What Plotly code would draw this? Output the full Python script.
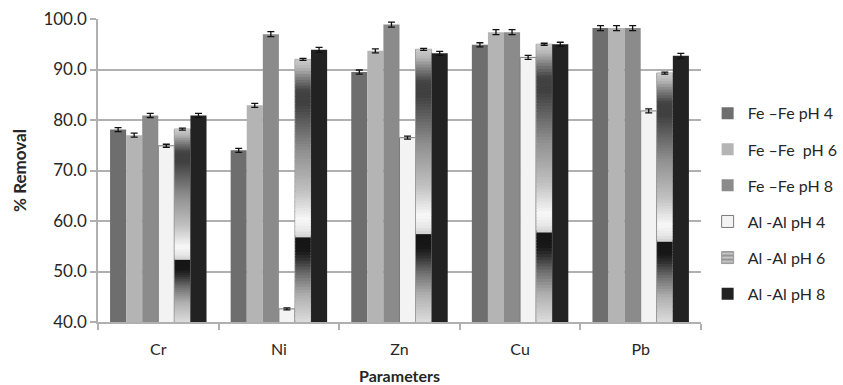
import plotly.graph_objects as go
import numpy as np

categories = ["Cr", "Ni", "Zn", "Cu", "Pb"]
series_names = ["Fe \u2013Fe pH 4", "Fe \u2013Fe\u00a0 pH 6", "Fe \u2013Fe pH 8",
                "Al -Al pH 4", "Al -Al pH 6", "Al -Al pH 8"]
fe_ph4 = [78.1, 74.0, 89.5, 94.9, 98.2]
fe_ph6 = [77.0, 82.9, 93.7, 97.4, 98.2]
fe_ph8 = [80.9, 97.0, 98.9, 97.4, 98.2]
al_ph4 = [74.9, 42.6, 76.5, 92.4, 81.8]
al_ph6 = [78.2, 92.0, 94.0, 95.0, 89.3]
al_ph8 = [80.9, 93.9, 93.2, 95.0, 92.7]
err_fe_ph4 = [0.4, 0.4, 0.4, 0.4, 0.5]
err_fe_ph6 = [0.4, 0.4, 0.4, 0.5, 0.5]
err_fe_ph8 = [0.4, 0.5, 0.5, 0.5, 0.5]
err_al_ph4 = [0.3, 0.2, 0.3, 0.4, 0.4]
err_al_ph6 = [0.2, 0.2, 0.2, 0.2, 0.2]
err_al_ph8 = [0.4, 0.5, 0.4, 0.4, 0.5]
y_ticks = [40, 50, 60, 70, 80, 90, 100]

colors = ["#6e6e6e", "#b3b4b3", "#8b8b8b", "#f3f3f3", "#c0c0c0", "#222222"]

# gradient stops (fraction of bar height from bottom, grey level) for Al pH 6 fill
grad_f = [0.00, 0.10, 0.18, 0.24, 0.27, 0.318, 0.322, 0.35, 0.39, 0.50, 0.65, 0.78, 0.83, 0.88, 0.93, 0.97, 1.00]
grad_g = [0xdc, 0xb0, 0x70, 0x30, 0x18, 0x15, 0xd0, 0xe8, 0xf8, 0xc0, 0x90, 0x55, 0x40, 0x42, 0x80, 0xb8, 0xcc]

BASE = 40
W = 0.1333
def off(k):
    return -0.4 + k * W

font_family = "Lato, 'Open Sans', sans-serif"
fig = go.Figure()

def add_bar(k, vals, errs, color, line_color=None, line_w=0):
    fig.add_trace(go.Bar(
        x=categories, y=vals, name=series_names[k],
        marker=dict(color=color, line=dict(color=line_color or color, width=line_w)),
        width=W, offset=off(k), legendgroup=str(k),
        error_y=dict(type="data", array=errs, color="#111111", thickness=1.3, width=3.5),
    ))

add_bar(0, fe_ph4, err_fe_ph4, colors[0])
add_bar(1, fe_ph6, err_fe_ph6, colors[1])
add_bar(2, fe_ph8, err_fe_ph8, colors[2])
add_bar(3, al_ph4, err_al_ph4, colors[3], "#7a7a7a", 1)

# Al pH 6: base trace (legend + outline)
fig.add_trace(go.Bar(
    x=categories, y=al_ph6, name=series_names[4], width=W, offset=off(4), legendgroup="4",
    marker=dict(color="#c4c4c4", line=dict(color="#9a9a9a", width=1),
                pattern=dict(shape="-", fgcolor="#3a3a3a", bgcolor="#c4c4c4", size=5, solidity=0.35)),
))
# gradient segments
N = 90
v6 = np.array(al_ph6)
for i in range(N):
    f0, f1 = i / N, (i + 1) / N
    g = int(round(np.interp((f0 + f1) / 2, grad_f, grad_g)))
    ext = 1.6 if i < N - 1 else 1.0
    fig.add_trace(go.Bar(
        x=categories, y=(v6 - BASE) * (f1 - f0) * ext, base=BASE + (v6 - BASE) * f0,
        width=W - 0.006, offset=off(4) + 0.003, showlegend=False, hoverinfo="skip",
        marker=dict(color=f"rgb({g},{g},{g})", line=dict(width=0)),
    ))
add_bar(5, al_ph8, err_al_ph8, colors[5])
# error bars for Al pH 6 drawn on top
fig.add_trace(go.Bar(
    x=categories, y=al_ph6, width=W, offset=off(4), showlegend=False, hoverinfo="skip",
    marker=dict(color="rgba(0,0,0,0)", line=dict(width=0)),
    error_y=dict(type="data", array=err_al_ph6, color="#111111", thickness=1.3, width=3.5),
))
# invisible trace carrying the category labels axis
fig.add_trace(go.Bar(
    x=categories, y=fe_ph4, xaxis="x2", showlegend=False, hoverinfo="skip",
    marker=dict(color="rgba(0,0,0,0)", line=dict(width=0)),
))

fig.update_layout(
    barmode="overlay",
    width=843, height=385,
    margin=dict(l=98, r=142, t=19, b=63, autoexpand=False),
    paper_bgcolor="white", plot_bgcolor="white",
    font=dict(family=font_family, size=16, color="#262626"),
    legend=dict(x=1.011, y=0.745, xanchor="left", yanchor="top",
                traceorder="grouped", tracegroupgap=12.3,
                font=dict(size=16, color="#262626"), itemwidth=30,
                bgcolor="rgba(0,0,0,0)"),
    xaxis=dict(type="category", range=[-0.5, 4.5], showline=True, linecolor="#b0b0b0", linewidth=1.5,
               ticks="outside", tickson="boundaries", ticklen=6, tickcolor="#b0b0b0", tickwidth=1.5,
               showgrid=False, automargin=False, showticklabels=False),
    xaxis2=dict(type="category", overlaying="x", anchor="y", side="bottom", range=[-0.5, 4.5],
                showline=False, showgrid=False, zeroline=False, automargin=False,
                ticks="outside", ticklen=13, tickcolor="rgba(0,0,0,0)",
                title=dict(text="<b>Parameters</b>", font=dict(size=16), standoff=18),
                tickfont=dict(size=16)),
    yaxis=dict(range=[40, 100], tickvals=y_ticks, tickformat=".1f",
               showline=True, linecolor="#b0b0b0", linewidth=1.5,
               ticks="outside", ticklen=6, tickcolor="#b0b0b0", tickwidth=1.5,
               showgrid=True, gridcolor="#b0b0b0", gridwidth=1.5, zeroline=False, automargin=False,
               title=dict(text="<b>% Removal</b>", font=dict(size=17), standoff=12),
               tickfont=dict(size=17)),
)

fig.write_html("out.html", config={"displayModeBar": False},
               post_script="document.body.style.margin='0';document.body.style.overflow='hidden';")
